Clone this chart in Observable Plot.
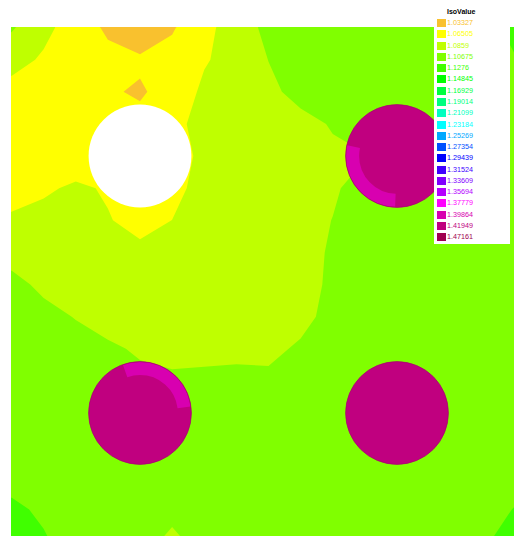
<!DOCTYPE html>
<html><head><meta charset="utf-8">
<script src="https://cdn.jsdelivr.net/npm/d3@7"></script>
<script src="https://cdn.jsdelivr.net/npm/@observablehq/plot@0.6"></script>
<style>
body{margin:0;background:#fff;overflow:hidden}
#wrap{position:relative;width:514px;height:536px;overflow:hidden}
#legend{position:absolute;left:434px;top:0;width:76px;height:244px;background:#fff;font-family:"Liberation Sans",Arial,sans-serif}
#legend .ttl{position:absolute;left:13px;top:8px;font-size:7px;line-height:8px;font-weight:bold;color:#000;white-space:nowrap}
#legend .sw{position:absolute;left:3px;width:9px;height:8px}
#legend .lb{position:absolute;left:13px;font-size:7.2px;line-height:8px;white-space:nowrap}
</style></head><body><div id="wrap"></div>
<script>
// Iso levels, labels, colours (legend)
const levels = [1.03327, 1.06505, 1.0859, 1.10675, 1.1276, 1.14845, 1.16929, 1.19014, 1.21099, 1.23184, 1.25269, 1.27354, 1.29439, 1.31524, 1.33609, 1.35694, 1.37779, 1.39864, 1.41949, 1.47161];
const levelLabels = ["1.03327","1.06505","1.0859","1.10675","1.1276","1.14845","1.16929","1.19014","1.21099","1.23184","1.25269","1.27354","1.29439","1.31524","1.33609","1.35694","1.37779","1.39864","1.41949","1.47161"];
const levelColors = ["#f9c12e","#ffff00","#bfff00","#80ff00","#40ff00","#00ff00","#00ff40","#00ff80","#00ffc0","#00ffff","#00a8ff","#0050ff","#0000ff","#4000ff","#8000ff","#b400ff","#ff00ff","#d800b0","#c0007f","#a0004f"];
const legendTitle = "IsoValue";

// Sample grid (x from left, y from top), field values
const gridX = [0, 0.25, 0.5, 0.75, 1, 1.25, 1.5, 1.75, 2, 2.25, 2.5, 2.75, 3, 3.25, 3.5, 3.75, 4];
const gridY = [4, 3.75, 3.5, 3.25, 3, 2.75, 2.5, 2.25, 2, 1.75, 1.5, 1.25, 1, 0.75, 0.5, 0.25, 0];
const fieldRows = [
  [1.109, 1.092, 1.075, 1.062, 1.050, 1.063, 1.080, 1.096, 1.112, 1.117, 1.117, 1.117, 1.117, 1.118, 1.119, 1.124, 1.140],
  [1.094, 1.083, 1.074, 1.070, 1.068, 1.072, 1.084, 1.094, 1.107, 1.115, 1.117, 1.117, 1.117, 1.117, 1.118, 1.120, 1.130],
  [1.078, 1.074, 1.070, 1.067, 1.063, 1.072, 1.090, 1.098, 1.103, 1.112, 1.116, 1.117, 1.117, 1.117, 1.117, 1.119, 1.122],
  [1.077, 1.074, 1.072, 1.070, 1.070, 1.080, 1.093, 1.097, 1.099, 1.102, 1.108, 1.115, 1.117, 1.117, 1.117, 1.117, 1.118],
  [1.078, 1.076, 1.074, 1.078, 1.076, 1.078, 1.090, 1.097, 1.098, 1.100, 1.104, 1.106, 1.110, 1.115, 1.117, 1.117, 1.117],
  [1.080, 1.083, 1.089, 1.084, 1.078, 1.080, 1.093, 1.097, 1.099, 1.100, 1.105, 1.112, 1.115, 1.117, 1.117, 1.117, 1.117],
  [1.088, 1.092, 1.092, 1.087, 1.080, 1.086, 1.095, 1.098, 1.099, 1.102, 1.107, 1.115, 1.117, 1.117, 1.117, 1.117, 1.117],
  [1.100, 1.097, 1.095, 1.093, 1.090, 1.093, 1.096, 1.097, 1.098, 1.100, 1.109, 1.116, 1.117, 1.117, 1.117, 1.117, 1.117],
  [1.112, 1.103, 1.099, 1.097, 1.096, 1.097, 1.097, 1.097, 1.098, 1.100, 1.110, 1.117, 1.117, 1.117, 1.117, 1.117, 1.117],
  [1.117, 1.112, 1.106, 1.101, 1.099, 1.098, 1.098, 1.099, 1.100, 1.102, 1.112, 1.117, 1.117, 1.117, 1.117, 1.117, 1.117],
  [1.118, 1.117, 1.113, 1.109, 1.105, 1.101, 1.100, 1.101, 1.103, 1.109, 1.115, 1.117, 1.117, 1.117, 1.117, 1.117, 1.117],
  [1.118, 1.118, 1.117, 1.113, 1.110, 1.110, 1.112, 1.113, 1.110, 1.115, 1.117, 1.117, 1.117, 1.117, 1.117, 1.117, 1.117],
  [1.118, 1.118, 1.117, 1.116, 1.115, 1.115, 1.116, 1.117, 1.117, 1.117, 1.117, 1.117, 1.117, 1.117, 1.117, 1.117, 1.117],
  [1.119, 1.118, 1.117, 1.117, 1.117, 1.117, 1.117, 1.117, 1.117, 1.117, 1.117, 1.117, 1.117, 1.117, 1.117, 1.117, 1.118],
  [1.120, 1.118, 1.117, 1.117, 1.117, 1.117, 1.117, 1.117, 1.117, 1.117, 1.117, 1.117, 1.117, 1.117, 1.117, 1.118, 1.119],
  [1.132, 1.124, 1.118, 1.117, 1.116, 1.115, 1.117, 1.117, 1.117, 1.117, 1.117, 1.117, 1.117, 1.117, 1.118, 1.119, 1.134],
  [1.140, 1.130, 1.118, 1.117, 1.117, 1.100, 1.117, 1.117, 1.117, 1.117, 1.117, 1.117, 1.117, 1.117, 1.118, 1.129, 1.140]
];

// Circles: hole (white) and three inclusions
const holeX = [1], holeY = [3];
const inclusionX = [3, 1, 3], inclusionY = [3, 1, 1];
const inclusionValue = [1.43, 1.43, 1.43];
const circleRadius = 0.4;
// lighter patches inside inclusions (screen angles in degrees, clockwise from 3 o'clock)
const patchX = [3, 1], patchY = [3, 1];
const patchValue = [1.405, 1.405];
const patchStart = [92, 250], patchEnd = [192, 352];

// layout
const W = 514, H = 536, ML = 11, MT = 27, unitPx = 128.5;
const xMax = (W - ML) / unitPx, yMin = gridY[0] - (H - MT) / unitPx;
const half = (gridX[1] - gridX[0]) / 2;

const holes = holeX.map((x, i) => ({x, y: holeY[i], r: circleRadius}));
const inclusions = inclusionX.map((x, i) => ({x, y: inclusionY[i], r: circleRadius, v: inclusionValue[i]}));

const patchW = 13;
const patchR = circleRadius - (patchW / 2 + 0.5) / unitPx;
const patchMarks = patchX.map((x, i) => {
  const C = 2 * Math.PI * patchR * unitPx;
  const L = (patchEnd[i] - patchStart[i]) / 360 * C;
  return Plot.dot([{x, y: patchY[i], r: patchR, v: patchValue[i]}], {
    x: "x", y: "y", r: "r", fill: "none", stroke: "v", strokeWidth: patchW,
    strokeDasharray: `${L} ${C - L}`, strokeDashoffset: `${-patchStart[i] / 360 * C}`
  });
});

const plot = Plot.plot({
  width: W, height: H,
  marginLeft: ML, marginTop: MT, marginRight: 0, marginBottom: 0,
  x: {domain: [0, xMax], axis: null},
  y: {domain: [yMin, gridY[0]], axis: null},
  r: {type: "linear", domain: [0, 1], range: [0, unitPx]},
  color: {type: "threshold", domain: levels.slice(1), range: levelColors},
  style: {background: "white"},
  marks: [
    Plot.contour(fieldRows.flat(), {
      width: gridX.length, height: gridY.length,
      x1: gridX[0] - half, x2: gridX[gridX.length - 1] + half,
      y1: gridY[0] + half, y2: gridY[gridY.length - 1] - half,
      fill: Plot.identity, thresholds: levels, clip: true
    }),
    Plot.dot(holes, {x: "x", y: "y", r: "r", fill: "white", stroke: "none"}),
    Plot.dot(inclusions, {x: "x", y: "y", r: "r", fill: "v", stroke: "none"}),
    ...patchMarks,
    Plot.dot(inclusions, {x: "x", y: "y", r: "r", fill: "none", stroke: "#a8006e", strokeWidth: 0.7})
  ]
});

const wrap = document.getElementById("wrap");
wrap.appendChild(plot);

// legend
const lg = document.createElement("div");
lg.id = "legend";
const t = document.createElement("div");
t.className = "ttl"; t.textContent = legendTitle; lg.appendChild(t);
levels.forEach((v, k) => {
  const cy = 23 + k * 11.28;
  const sw = document.createElement("div");
  sw.className = "sw"; sw.style.top = (cy - 4) + "px"; sw.style.background = levelColors[k];
  const lb = document.createElement("div");
  lb.className = "lb"; lb.style.top = (cy - 4) + "px"; lb.style.color = levelColors[k];
  lb.textContent = levelLabels[k];
  lg.appendChild(sw); lg.appendChild(lb);
});
wrap.appendChild(lg);
</script></body></html>
